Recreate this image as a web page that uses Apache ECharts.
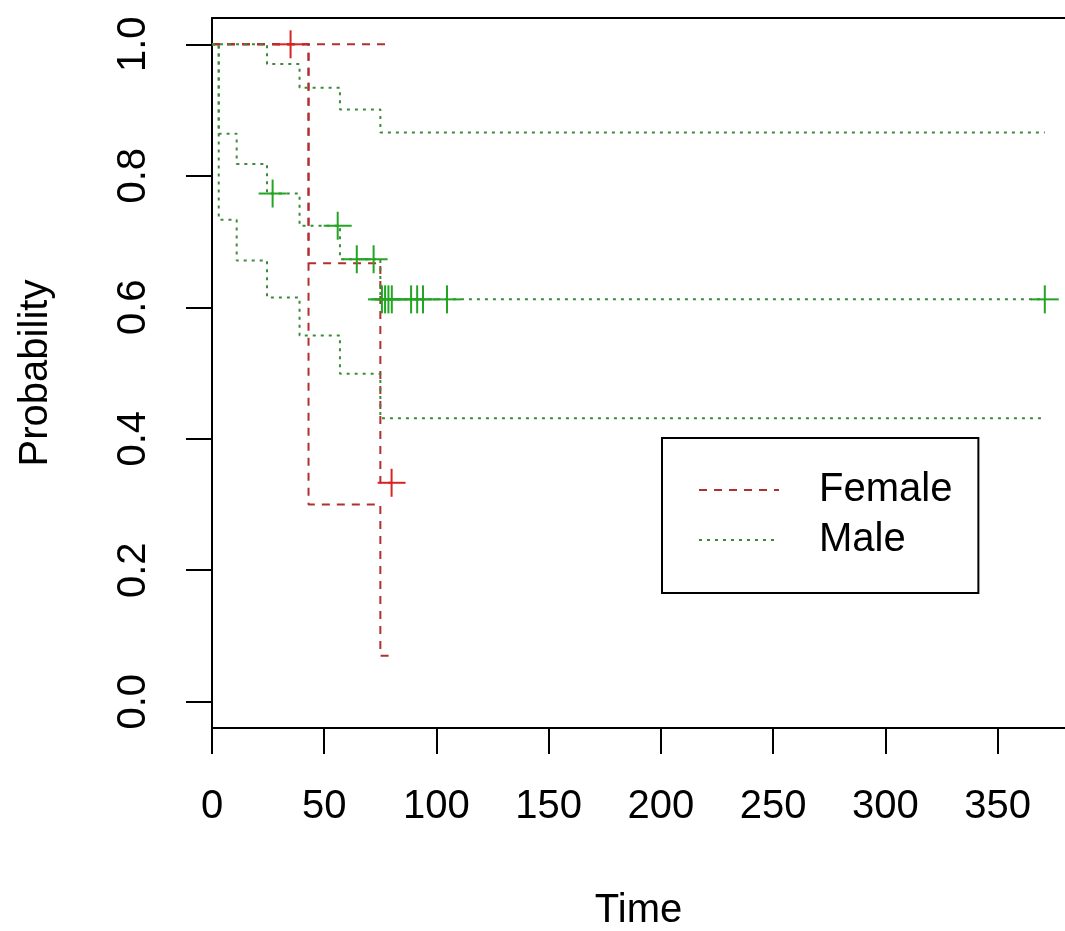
<!DOCTYPE html>
<html>
<head>
<meta charset="utf-8">
<script src="https://cdn.jsdelivr.net/npm/echarts@6/dist/echarts.min.js"></script>
<style>
  html, body { margin: 0; padding: 0; background: #fff; }
  #chart { width: 1065px; height: 931px; }
</style>
</head>
<body>
<div id="chart"></div>
<script>
// Kaplan-Meier survival estimates by sex, with pointwise confidence limits.
// Each group is a step function: value holds from its time until the next time.
const femaleTime  = [0, 43, 75, 80];
const femaleSurv  = [1, 0.667, 0.333, 0.333];
const femaleUpper = [1, 1, 1, 1];
const femaleLower = [1, 0.30, 0.07, 0.07];
const femaleCensor = [35, 80];

const maleTime  = [0, 3, 11, 24.5, 39, 57, 75, 371];
const maleSurv  = [1, 0.864, 0.818, 0.773, 0.724, 0.673, 0.612, 0.612];
const maleUpper = [1, 1, 1, 0.970, 0.934, 0.901, 0.866, 0.866];
const maleLower = [1, 0.733, 0.671, 0.615, 0.557, 0.499, 0.431, 0.431];
const maleCensor = [27, 56, 64.5, 72, 75.7, 77.1, 78.6, 80.1, 88.7, 91.4, 94, 104.7, 371];

const timeTicks = [0, 50, 100, 150, 200, 250, 300, 350];
const probTicks = [0, 0.2, 0.4, 0.6, 0.8, 1.0];

const groupNames = ['Female', 'Male'];

const FONT = "'Liberation Sans', Arial, Helvetica, sans-serif";
const femaleLine = '#b0302f';
const maleLine = '#3c8a3c';
const femaleMark = '#d82424';
const maleMark = '#22a522';
const femaleDash = [8, 7];
const maleDash = [3, 5];
const frame = { show: true, onZero: false, lineStyle: { color: '#000', width: 2 } };

function pairs(xs, ys) { return xs.map((x, i) => [x, ys[i]]); }
function survAt(xs, ys, t) {
  let v = ys[0];
  for (let i = 0; i < xs.length; i++) if (xs[i] <= t) v = ys[i];
  return v;
}

function stepSeries(name, xs, ys, color, dash) {
  return {
    name: name,
    type: 'line',
    step: 'end',
    symbol: 'none',
    data: pairs(xs, ys),
    lineStyle: { color: color, width: 2, type: dash },
    itemStyle: { color: color },
    z: 3
  };
}

function censorSeries(name, times, xs, ys, color) {
  return {
    name: name,
    type: 'custom',
    data: times.map(t => [t, survAt(xs, ys, t)]),
    renderItem: function (params, api) {
      const p = api.coord([api.value(0), api.value(1)]);
      const h = 14;
      const st = { stroke: color, lineWidth: 2 };
      return {
        type: 'group',
        children: [
          { type: 'line', shape: { x1: p[0] - h, y1: p[1], x2: p[0] + h, y2: p[1] }, style: st },
          { type: 'line', shape: { x1: p[0], y1: p[1] - h, x2: p[0], y2: p[1] + h }, style: st }
        ]
      };
    },
    z: 4
  };
}

const chart = echarts.init(document.getElementById('chart'), null, { renderer: 'canvas' });

chart.setOption({
  animation: false,
  backgroundColor: '#fff',
  grid: { left: 212, top: 18, right: 0, height: 710, show: false, outerBoundsMode: 'none' },
  xAxis: [{
    type: 'value',
    min: 0, max: 380,
    name: 'Time',
    nameLocation: 'middle',
    nameGap: 163,
    nameTextStyle: { fontFamily: FONT, fontSize: 40, color: '#000', lineHeight: 40 },
    axisLine: frame,
    splitLine: { show: false },
    axisTick: { show: true, inside: false, length: 26, customValues: timeTicks,
      lineStyle: { color: '#000', width: 2 } },
    axisLabel: { customValues: timeTicks, margin: 59, fontFamily: FONT, fontSize: 40,
      color: '#000', lineHeight: 40 }
  }, {
    type: 'value',
    position: 'top',
    min: 0, max: 380,
    axisLine: frame,
    axisTick: { show: false },
    axisLabel: { show: false },
    splitLine: { show: false }
  }],
  yAxis: {
    type: 'value',
    min: -0.04, max: 1.04,
    name: 'Probability',
    nameLocation: 'middle',
    nameGap: 156,
    nameRotate: 90,
    nameTextStyle: { fontFamily: FONT, fontSize: 40, color: '#000', lineHeight: 40 },
    axisLine: frame,
    splitLine: { show: false },
    axisTick: { show: true, inside: false, length: 26, customValues: probTicks,
      lineStyle: { color: '#000', width: 2 } },
    axisLabel: { customValues: probTicks, rotate: 90, margin: 58, fontFamily: FONT,
      fontSize: 40, color: '#000', lineHeight: 40,
      formatter: v => v.toFixed(1) }
  },
  legend: {
    data: [
      { name: groupNames[0], lineStyle: { color: femaleLine, width: 2, type: femaleDash } },
      { name: groupNames[1], lineStyle: { color: maleLine, width: 2, type: maleDash } }
    ],
    orient: 'vertical',
    left: 662, top: 438,
    padding: [32, 26, 33, 36],
    itemWidth: 80, itemHeight: 40, itemGap: 10,
    itemStyle: { color: 'rgba(0,0,0,0)', borderWidth: 0, opacity: 0 },
    borderColor: '#000', borderWidth: 2, backgroundColor: '#fff',
    selectedMode: false,
    textStyle: { fontFamily: FONT, fontSize: 40, color: '#000', lineHeight: 40,
      padding: [0, 0, 0, 35] }
  },
  series: [
    stepSeries('Female', femaleTime, femaleSurv, femaleLine, femaleDash),
    stepSeries('Female upper', femaleTime, femaleUpper, femaleLine, femaleDash),
    stepSeries('Female lower', femaleTime, femaleLower, femaleLine, femaleDash),
    stepSeries('Male', maleTime, maleSurv, maleLine, maleDash),
    stepSeries('Male upper', maleTime, maleUpper, maleLine, maleDash),
    stepSeries('Male lower', maleTime, maleLower, maleLine, maleDash),
    censorSeries('Female censored', femaleCensor, femaleTime, femaleSurv, femaleMark),
    censorSeries('Male censored', maleCensor, maleTime, maleSurv, maleMark)
  ]
});
</script>
</body>
</html>
